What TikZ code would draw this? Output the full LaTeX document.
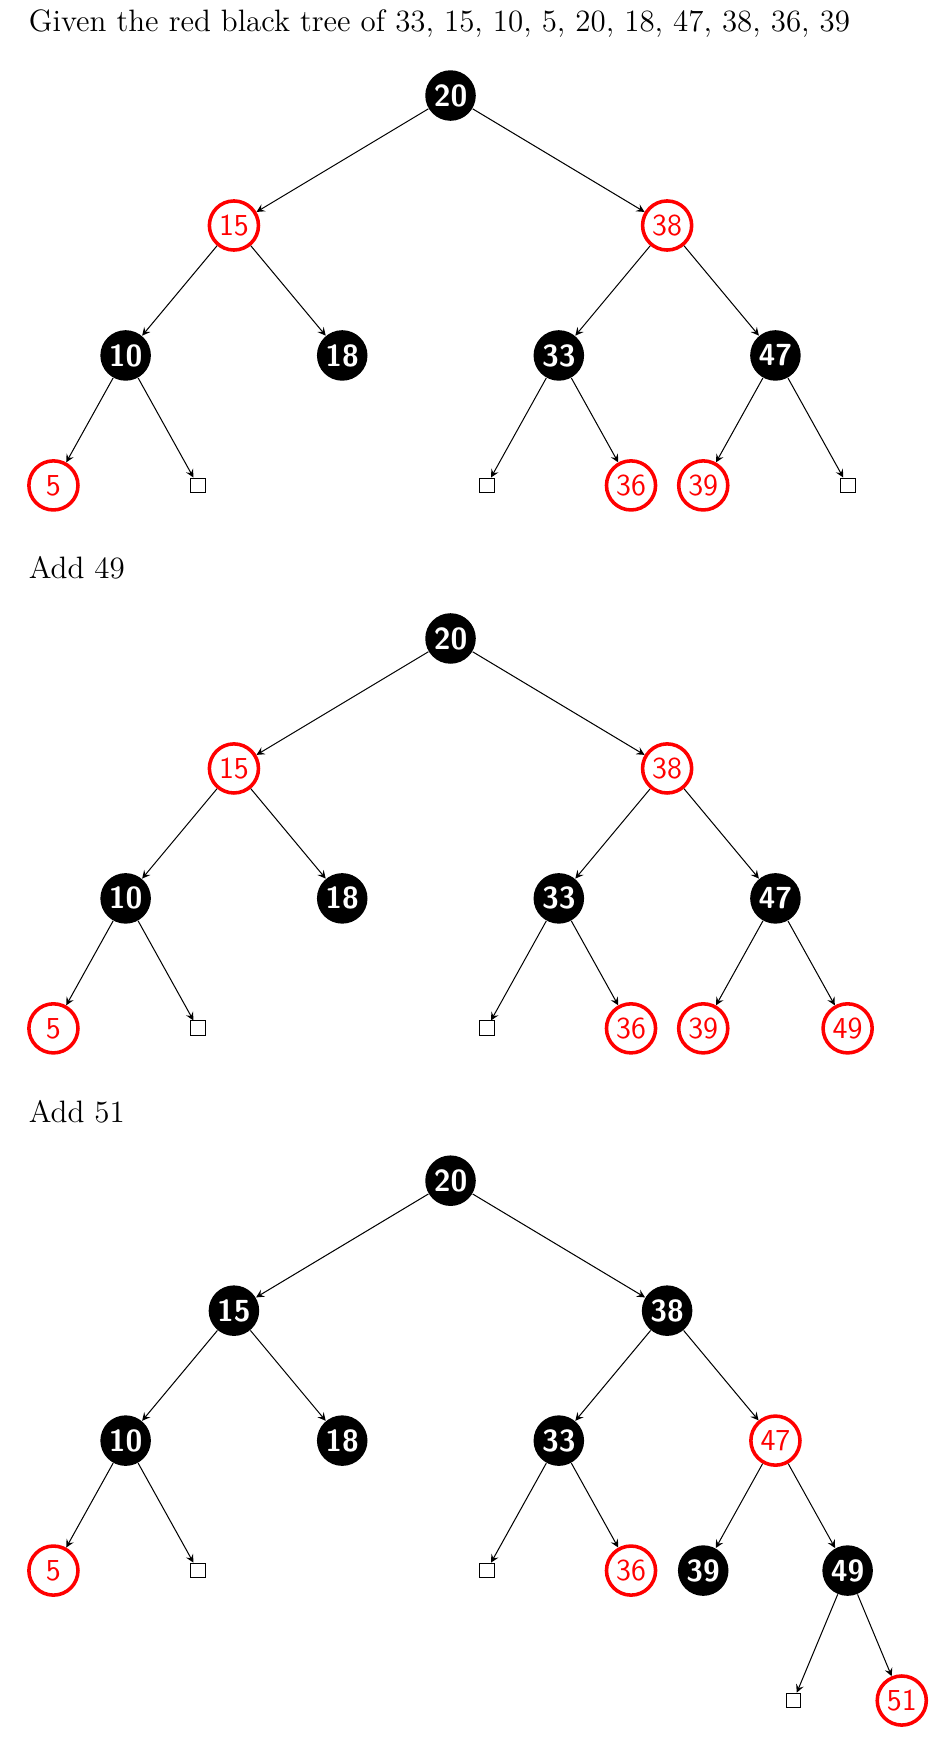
\documentclass[tikz,border=0pt,12pt]{standalone}
\usepackage{tikz}
\usetikzlibrary{shapes,arrows}
\tikzstyle{blacknode} = [circle, fill=black, text=white, font=\sffamily\bfseries, minimum size=7mm, inner sep=0pt]
\tikzstyle{rednode} = [circle, draw=red, line width=1.4pt, fill=white, text=red, font=\sffamily, minimum size=6.8mm, inner sep=0pt]
\tikzstyle{nil} = [rectangle, draw, minimum size=2.05mm, inner sep=0pt]
\tikzstyle{heading} = [anchor=base west, inner sep=0pt, font=\fontsize{12.2}{14.6}\selectfont]
\tikzstyle{line} = [draw, -stealth]
\begin{document}
\begin{tikzpicture}[node distance=1.8cm]
		\useasboundingbox (0,0) rectangle (12.978,-24.169);
		% Place nodes
		\node [heading] (givenlbl) at (0.392,-0.439) {Given the red black tree of 33, 15, 10, 5, 20, 18, 47, 38, 36, 39};
		\node [blacknode] (a20) at (6.24,-1.323) {20};
		\node [rednode, below of=a20, xshift=-3cm] (a15) {15};
		\node [rednode, below of=a20, xshift=3cm] (a38) {38};
		\node [blacknode, below of=a15, xshift=-1.5cm] (a10) {10};
		\node [blacknode, below of=a15, xshift=1.5cm] (a18) {18};
		\node [blacknode, below of=a38, xshift=-1.5cm] (a33) {33};
		\node [blacknode, below of=a38, xshift=1.5cm] (a47) {47};
		\node [rednode, below of=a10, xshift=-1cm] (a5) {5};
		\node [nil, below of=a10, xshift=1cm] (anil1) {};
		\node [nil, below of=a33, xshift=-1cm] (anil2) {};
		\node [rednode, below of=a33, xshift=1cm] (a36) {36};
		\node [rednode, below of=a47, xshift=-1cm] (a39) {39};
		\node [nil, below of=a47, xshift=1cm] (anil3) {};
		
		\node [heading] (add49lbl) at (0.392,-8.019) {Add 49};
		\node [blacknode] (b20) at (6.24,-8.843) {20};
		\node [rednode, below of=b20, xshift=-3cm] (b15) {15};
		\node [rednode, below of=b20, xshift=3cm] (b38) {38};
		\node [blacknode, below of=b15, xshift=-1.5cm] (b10) {10};
		\node [blacknode, below of=b15, xshift=1.5cm] (b18) {18};
		\node [blacknode, below of=b38, xshift=-1.5cm] (b33) {33};
		\node [blacknode, below of=b38, xshift=1.5cm] (b47) {47};
		\node [rednode, below of=b10, xshift=-1cm] (b5) {5};
		\node [nil, below of=b10, xshift=1cm] (bnil1) {};
		\node [nil, below of=b33, xshift=-1cm] (bnil2) {};
		\node [rednode, below of=b33, xshift=1cm] (b36) {36};
		\node [rednode, below of=b47, xshift=-1cm] (b39) {39};
		\node [rednode, below of=b47, xshift=1cm] (b49) {49};
		
		\node [heading] (add51lbl) at (0.392,-15.54) {Add 51};
		\node [blacknode] (c20) at (6.24,-16.353) {20};
		\node [blacknode, below of=c20, xshift=-3cm] (c15) {15};
		\node [blacknode, below of=c20, xshift=3cm] (c38) {38};
		\node [blacknode, below of=c15, xshift=-1.5cm] (c10) {10};
		\node [blacknode, below of=c15, xshift=1.5cm] (c18) {18};
		\node [blacknode, below of=c38, xshift=-1.5cm] (c33) {33};
		\node [rednode, below of=c38, xshift=1.5cm] (c47) {47};
		\node [rednode, below of=c10, xshift=-1cm] (c5) {5};
		\node [nil, below of=c10, xshift=1cm] (cnil1) {};
		\node [nil, below of=c33, xshift=-1cm] (cnil2) {};
		\node [rednode, below of=c33, xshift=1cm] (c36) {36};
		\node [blacknode, below of=c47, xshift=-1cm] (c39) {39};
		\node [blacknode, below of=c47, xshift=1cm] (c49) {49};
		\node [nil, below of=c49, xshift=-0.75cm] (cnil3) {};
		\node [rednode, below of=c49, xshift=0.75cm] (c51) {51};
		
		% Draw edges
		\path [line] (a20) -- (a15);
		\path [line] (a20) -- (a38);
		\path [line] (a15) -- (a10);
		\path [line] (a15) -- (a18);
		\path [line] (a38) -- (a33);
		\path [line] (a38) -- (a47);
		\path [line] (a10) -- (a5);
		\path [line] (a10) -- (anil1);
		\path [line] (a33) -- (anil2);
		\path [line] (a33) -- (a36);
		\path [line] (a47) -- (a39);
		\path [line] (a47) -- (anil3);
		
		\path [line] (b20) -- (b15);
		\path [line] (b20) -- (b38);
		\path [line] (b15) -- (b10);
		\path [line] (b15) -- (b18);
		\path [line] (b38) -- (b33);
		\path [line] (b38) -- (b47);
		\path [line] (b10) -- (b5);
		\path [line] (b10) -- (bnil1);
		\path [line] (b33) -- (bnil2);
		\path [line] (b33) -- (b36);
		\path [line] (b47) -- (b39);
		\path [line] (b47) -- (b49);
		
		\path [line] (c20) -- (c15);
		\path [line] (c20) -- (c38);
		\path [line] (c15) -- (c10);
		\path [line] (c15) -- (c18);
		\path [line] (c38) -- (c33);
		\path [line] (c38) -- (c47);
		\path [line] (c10) -- (c5);
		\path [line] (c10) -- (cnil1);
		\path [line] (c33) -- (cnil2);
		\path [line] (c33) -- (c36);
		\path [line] (c47) -- (c39);
		\path [line] (c47) -- (c49);
		\path [line] (c49) -- (cnil3);
		\path [line] (c49) -- (c51);
	\end{tikzpicture}
\end{document}
